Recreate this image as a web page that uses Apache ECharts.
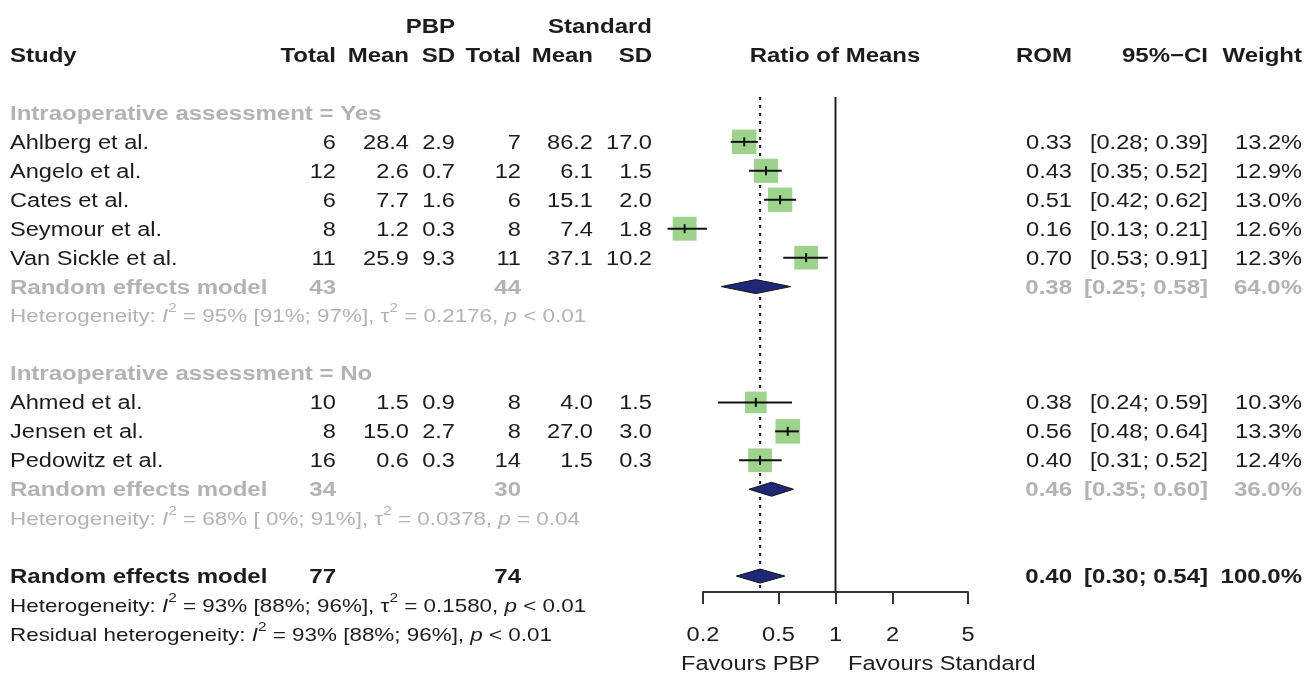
<!DOCTYPE html>
<html><head><meta charset="utf-8">
<script src="https://cdn.jsdelivr.net/npm/echarts@6/dist/echarts.min.js"></script>
<style>html,body{margin:0;padding:0;background:#fff}#c{width:1306px;height:675px}</style>
</head><body><div id="c"></div>
<script>
// ---------------- data ----------------
const studies   = ['Ahlberg et al.', 'Angelo et al.', 'Cates et al.', 'Seymour et al.', 'Van Sickle et al.', 'Ahmed et al.', 'Jensen et al.', 'Pedowitz et al.'];
const studyRows = [1, 2, 3, 4, 5, 10, 11, 12];
const pbpTotal  = [6, 12, 6, 8, 11, 10, 8, 16];
const pbpMean   = ['28.4', '2.6', '7.7', '1.2', '25.9', '1.5', '15.0', '0.6'];
const pbpSD     = ['2.9', '0.7', '1.6', '0.3', '9.3', '0.9', '2.7', '0.3'];
const stdTotal  = [7, 12, 6, 8, 11, 8, 8, 14];
const stdMean   = ['86.2', '6.1', '15.1', '7.4', '37.1', '4.0', '27.0', '1.5'];
const stdSD     = ['17.0', '1.5', '2.0', '1.8', '10.2', '1.5', '3.0', '0.3'];
const rom       = [0.33, 0.43, 0.51, 0.16, 0.70, 0.38, 0.56, 0.40];
const romLower  = [0.28, 0.35, 0.42, 0.13, 0.53, 0.24, 0.48, 0.31];
const romUpper  = [0.39, 0.52, 0.62, 0.21, 0.91, 0.59, 0.64, 0.52];
const weights   = [13.2, 12.9, 13.0, 12.6, 12.3, 10.3, 13.3, 12.4];

const groupLabels = ['Intraoperative assessment = Yes', 'Intraoperative assessment = No'];
const groupRows   = [0, 9];

const pooledRows  = [6, 13, 16];
const pooledN1    = [43, 34, 77];
const pooledN2    = [44, 30, 74];
const pooledEst   = [0.38, 0.46, 0.40];
const pooledLower = [0.25, 0.35, 0.30];
const pooledUpper = [0.58, 0.60, 0.54];
const pooledW     = ['64.0%', '36.0%', '100.0%'];
const pooledOverall = [false, false, true];

const hetRows  = [7, 14, 17, 18];
const hetTexts = [
  'Heterogeneity: {i|I}{s|2} = 95% [91%; 97%], τ{s|2} = 0.2176, {i|p} < 0.01',
  'Heterogeneity: {i|I}{s|2} = 68% [ 0%; 91%], τ{s|2} = 0.0378, {i|p} = 0.04',
  'Heterogeneity: {i|I}{s|2} = 93% [88%; 96%], τ{s|2} = 0.1580, {i|p} < 0.01',
  'Residual heterogeneity: {i|I}{s|2} = 93% [88%; 96%], {i|p} < 0.01'
];
const hetOverall = [false, false, true, true];

const xTicks = [0.2, 0.5, 1, 2, 5];
const xTickLabels = ['0.2', '0.5', '1', '2', '5'];
const favourLeft = 'Favours PBP';
const favourRight = 'Favours Standard';

// ---------------- layout / style ----------------
const FONT = '"Liberation Sans", Arial, Helvetica, sans-serif';
const SX = 1.18, SXB = 1.2;
const BLACK = '#1c1c1c', GRAY = '#b3b3b3';
const TEXT_DY = 1.5;
const COL = {study: 10, n1: 336, m1: 409, sd1: 455, n2: 521, m2: 593, sd2: 652, mid: 835, rom: 1072, ci: 1208, w: 1302};

const texts = [];
function T(row, x, text, align, o) { texts.push(Object.assign({row: row, x: x, text: text, align: align}, o || {})); }
const fmtCI = (l, u) => '[' + l.toFixed(2) + '; ' + u.toFixed(2) + ']';

// headers
T(-3, COL.sd1, 'PBP', 'right', {bold: true});
T(-3, COL.sd2, 'Standard', 'right', {bold: true});
T(-2, COL.study, 'Study', 'left', {bold: true});
[['n1','Total'],['m1','Mean'],['sd1','SD'],['n2','Total'],['m2','Mean'],['sd2','SD']].forEach(p => T(-2, COL[p[0]], p[1], 'right', {bold: true}));
T(-2, COL.mid, 'Ratio of Means', 'center', {bold: true});
T(-2, COL.rom, 'ROM', 'right', {bold: true});
T(-2, COL.ci, '95%\u2212CI', 'right', {bold: true});
T(-2, COL.w, 'Weight', 'right', {bold: true});

groupLabels.forEach((g, i) => T(groupRows[i], COL.study, g, 'left', {bold: true, color: GRAY}));

studies.forEach((s, i) => {
  const r = studyRows[i];
  T(r, COL.study, s, 'left');
  T(r, COL.n1, String(pbpTotal[i]), 'right');
  T(r, COL.m1, pbpMean[i], 'right');
  T(r, COL.sd1, pbpSD[i], 'right');
  T(r, COL.n2, String(stdTotal[i]), 'right');
  T(r, COL.m2, stdMean[i], 'right');
  T(r, COL.sd2, stdSD[i], 'right');
  T(r, COL.rom, rom[i].toFixed(2), 'right');
  T(r, COL.ci, fmtCI(romLower[i], romUpper[i]), 'right');
  T(r, COL.w, weights[i].toFixed(1) + '%', 'right');
});

pooledRows.forEach((r, i) => {
  const o = {bold: true, color: pooledOverall[i] ? BLACK : GRAY};
  T(r, COL.study, 'Random effects model', 'left', o);
  T(r, COL.n1, String(pooledN1[i]), 'right', o);
  T(r, COL.n2, String(pooledN2[i]), 'right', o);
  T(r, COL.rom, pooledEst[i].toFixed(2), 'right', o);
  T(r, COL.ci, fmtCI(pooledLower[i], pooledUpper[i]), 'right', o);
  T(r, COL.w, pooledW[i], 'right', o);
});

hetRows.forEach((r, i) => T(r, COL.study, hetTexts[i], 'left', {color: hetOverall[i] ? BLACK : GRAY, size: 19, rich: true}));

// tick labels, positioned by the x scale
xTicks.forEach((v, i) => T(18, null, xTickLabels[i], 'center', {xval: v}));

T(19, 820, favourLeft, 'right');
T(19, 848, favourRight, 'left');

function richFor(color) {
  return {
    i: {fontStyle: 'italic', fontSize: 19, fontFamily: FONT, lineHeight: 30, fill: color, color: color},
    s: {fontSize: 13, fontFamily: FONT, lineHeight: 14, verticalAlign: 'top', fill: color, color: color}
  };
}

const chart = echarts.init(document.getElementById('c'), null, {renderer: 'canvas'});

const option = {
  animation: false,
  backgroundColor: '#fff',
  grid: {left: 703, right: 338, top: 97, bottom: 83, containLabel: false},
  xAxis: {
    type: 'log', logBase: 10, min: 0.2, max: 5, position: 'bottom',
    axisLine: {show: true, onZero: false, lineStyle: {color: '#333', width: 2}},
    axisTick: {show: true, length: 12, inside: false, lineStyle: {color: '#333', width: 2}, customValues: xTicks},
    axisLabel: {show: false},
    splitLine: {show: false}, minorTick: {show: false}
  },
  yAxis: {type: 'value', inverse: true, min: -0.55, max: 16.55, show: false},
  series: [
    { // reference lines
      type: 'custom', clip: false, silent: true,
      data: [[1, 0, 0], [pooledEst[2], 0, 1]],
      renderItem: function (params, api) {
        const x = api.coord([api.value(0), 0])[0];
        const cs = params.coordSys;
        const dashed = api.value(2) === 1;
        return {type: 'line', shape: {x1: x, y1: cs.y, x2: x, y2: cs.y + cs.height},
          style: {stroke: '#222', lineWidth: 2, lineDash: dashed ? [3, 5] : null}};
      }
    },
    { // study squares + CI
      type: 'custom', clip: false, silent: true,
      data: studyRows.map((r, i) => [rom[i], r, romLower[i], romUpper[i], weights[i]]),
      renderItem: function (params, api) {
        const row = api.value(1);
        const c = api.coord([api.value(0), row]);
        const l = api.coord([api.value(2), row]);
        const u = api.coord([api.value(3), row]);
        const s = Math.sqrt(api.value(4)) * 6.75;
        return {type: 'group', children: [
          {type: 'rect', shape: {x: c[0] - s / 2, y: c[1] - s / 2, width: s, height: s}, style: {fill: '#9ed38e'}},
          {type: 'line', shape: {x1: l[0], y1: c[1], x2: u[0], y2: c[1]}, style: {stroke: '#111', lineWidth: 2}},
          {type: 'line', shape: {x1: c[0], y1: c[1] - 4.5, x2: c[0], y2: c[1] + 4.5}, style: {stroke: '#111', lineWidth: 2}}
        ]};
      }
    },
    { // diamonds
      type: 'custom', clip: false, silent: true,
      data: pooledRows.map((r, i) => [pooledEst[i], r, pooledLower[i], pooledUpper[i]]),
      renderItem: function (params, api) {
        const row = api.value(1);
        const c = api.coord([api.value(0), row]);
        const l = api.coord([api.value(2), row]);
        const u = api.coord([api.value(3), row]);
        const h = 7;
        return {type: 'polygon', shape: {points: [[l[0], c[1]], [c[0], c[1] - h], [u[0], c[1]], [c[0], c[1] + h]]},
          style: {fill: '#212777', stroke: '#111', lineWidth: 1}};
      }
    },
    { // texts
      type: 'custom', clip: false, silent: true,
      data: texts.map(t => [t.xval != null ? t.xval : 1, t.row]),
      renderItem: function (params, api) {
        const t = texts[params.dataIndex];
        const p = api.coord([api.value(0), t.row]);
        const x = t.xval != null ? p[0] : t.x;
        const color = t.color || BLACK;
        const st = {text: t.text, align: t.align, verticalAlign: 'middle', fill: color,
          fontSize: t.size || 20, fontWeight: t.bold ? 'bold' : 'normal', fontFamily: FONT};
        if (t.rich) { st.rich = richFor(color); st.lineHeight = 30; }
        return {type: 'text', x: x, y: p[1] + TEXT_DY, scaleX: t.bold ? SXB : SX, style: st};
      }
    }
  ]
};
chart.setOption(option);
</script>
</body></html>
